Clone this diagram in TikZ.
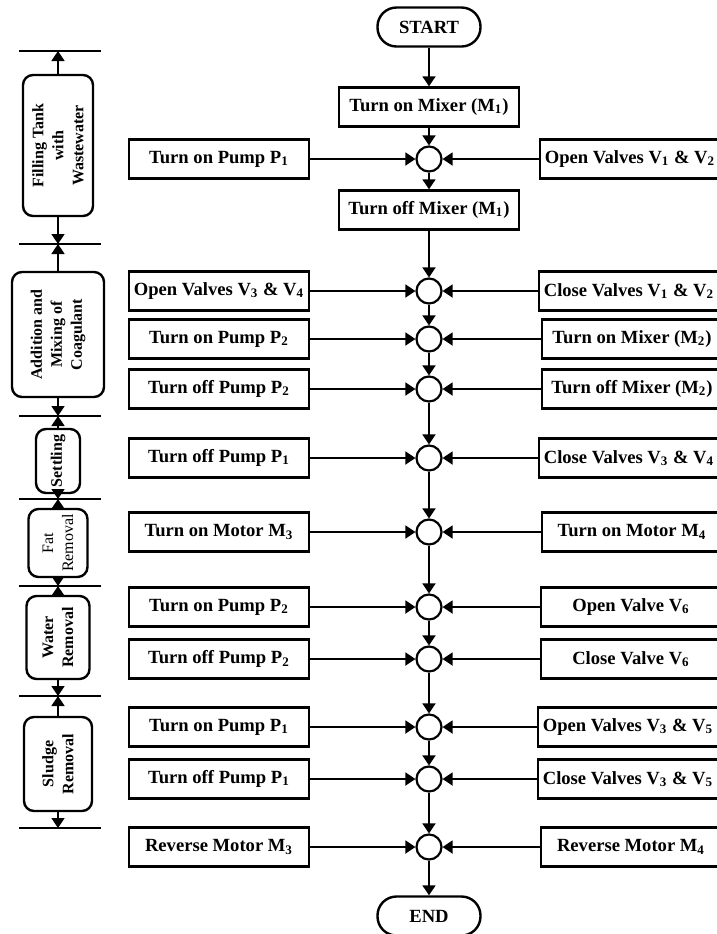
\documentclass[tikz,border=0pt]{standalone}
\usepackage{fontspec}
\setmainfont{Liberation Serif}
\usetikzlibrary{arrows.meta}

\tikzset{
  stepbox/.style={draw, line width=1.2pt, minimum width=90pt, minimum height=19.5pt, inner sep=1pt, font=\bfseries\fontsize{9.3}{11}\selectfont},
  termbox/.style={stepbox, rounded corners=9.5pt, minimum width=51.5pt},
  joint/.style={draw, circle, line width=1.1pt, minimum size=12.5pt, inner sep=0pt},
  stagebox/.style={draw, rounded corners=5pt, line width=1.2pt, rotate=90, align=center, inner sep=1pt, font=\bfseries\fontsize{8}{10}\selectfont},
  stagethin/.style={stagebox, font=\fontsize{8}{10}\selectfont},
  flow/.style={line width=0.9pt, -{Triangle[length=5pt,width=6.5pt]}},
  sepline/.style={line width=0.9pt},
}

\begin{document}
\begin{tikzpicture}[x=0.5pt,y=-0.5pt]
    \useasboundingbox (0,0) rectangle (717,934);

    % main column
    \node[termbox] (start) at (429,27) {START};
    \node[stepbox] (mixon) at (429,107) {Turn on Mixer (M\textsubscript{1})};
    \node[stepbox] (mixoff) at (429,210) {Turn off Mixer (M\textsubscript{1})};
    \node[termbox] (end) at (429,916) {END};

    \node[joint] (c1) at (429,159) {};
    \node[joint] (c2) at (429,291) {};
    \node[joint] (c3) at (429,339) {};
    \node[joint] (c4) at (429,389) {};
    \node[joint] (c5) at (429,458) {};
    \node[joint] (c6) at (429,532) {};
    \node[joint] (c7) at (429,607) {};
    \node[joint] (c8) at (429,659) {};
    \node[joint] (c9) at (429,727) {};
    \node[joint] (c10) at (429,779) {};
    \node[joint] (c11) at (429,847) {};

    % left column
    \node[stepbox] (l1) at (219,159) {Turn on Pump P\textsubscript{1}};
    \node[stepbox] (l2) at (219,291) {Open Valves V\textsubscript{3} \& V\textsubscript{4}};
    \node[stepbox] (l3) at (219,339) {Turn on Pump P\textsubscript{2}};
    \node[stepbox] (l4) at (219,389) {Turn off Pump P\textsubscript{2}};
    \node[stepbox] (l5) at (219,458) {Turn off Pump P\textsubscript{1}};
    \node[stepbox] (l6) at (219,532) {Turn on Motor M\textsubscript{3}};
    \node[stepbox] (l7) at (219,607) {Turn on Pump P\textsubscript{2}};
    \node[stepbox] (l8) at (219,659) {Turn off Pump P\textsubscript{2}};
    \node[stepbox] (l9) at (219,727) {Turn on Pump P\textsubscript{1}};
    \node[stepbox] (l10) at (219,779) {Turn off Pump P\textsubscript{1}};
    \node[stepbox] (l11) at (219,847) {Reverse Motor M\textsubscript{3}};

    % right column
    \node[stepbox] (r1) at (630,159) {Open Valves V\textsubscript{1} \& V\textsubscript{2}};
    \node[stepbox] (r2) at (629,291) {Close Valves V\textsubscript{1} \& V\textsubscript{2}};
    \node[stepbox] (r3) at (632,339) {Turn on Mixer (M\textsubscript{2})};
    \node[stepbox] (r4) at (632,389) {Turn off Mixer (M\textsubscript{2})};
    \node[stepbox] (r5) at (629,458) {Close Valves V\textsubscript{3} \& V\textsubscript{4}};
    \node[stepbox] (r6) at (632,532) {Turn on Motor M\textsubscript{4}};
    \node[stepbox] (r7) at (631,607) {Open Valve V\textsubscript{6}};
    \node[stepbox] (r8) at (631,659) {Close Valve V\textsubscript{6}};
    \node[stepbox] (r9) at (628,727) {Open Valves V\textsubscript{3} \& V\textsubscript{5}};
    \node[stepbox] (r10) at (628,779) {Close Valves V\textsubscript{3} \& V\textsubscript{5}};
    \node[stepbox] (r11) at (631,847) {Reverse Motor M\textsubscript{4}};

    \draw[flow] (start) -- (mixon);
    \draw[flow] (mixon) -- (c1);
    \draw[flow] (c1) -- (mixoff);
    \draw[flow] (mixoff) -- (c2);
    \draw[flow] (c2) -- (c3);
    \draw[flow] (c3) -- (c4);
    \draw[flow] (c4) -- (c5);
    \draw[flow] (c5) -- (c6);
    \draw[flow] (c6) -- (c7);
    \draw[flow] (c7) -- (c8);
    \draw[flow] (c8) -- (c9);
    \draw[flow] (c9) -- (c10);
    \draw[flow] (c10) -- (c11);
    \draw[flow] (c11) -- (end);

    \draw[flow] (l1) -- (c1);
    \draw[flow] (l2) -- (c2);
    \draw[flow] (l3) -- (c3);
    \draw[flow] (l4) -- (c4);
    \draw[flow] (l5) -- (c5);
    \draw[flow] (l6) -- (c6);
    \draw[flow] (l7) -- (c7);
    \draw[flow] (l8) -- (c8);
    \draw[flow] (l9) -- (c9);
    \draw[flow] (l10) -- (c10);
    \draw[flow] (l11) -- (c11);

    \draw[flow] (r1) -- (c1);
    \draw[flow] (r2) -- (c2);
    \draw[flow] (r3) -- (c3);
    \draw[flow] (r4) -- (c4);
    \draw[flow] (r5) -- (c5);
    \draw[flow] (r6) -- (c6);
    \draw[flow] (r7) -- (c7);
    \draw[flow] (r8) -- (c8);
    \draw[flow] (r9) -- (c9);
    \draw[flow] (r10) -- (c10);
    \draw[flow] (r11) -- (c11);

    % stages (rotated: east is up, west is down)
    \foreach \y [count=\i from 0] in {51,244,416,499,586,696,828} {
        \draw[sepline] (19,\y) -- (101,\y);
        \coordinate (t\i) at (58,\y);
    }
    \node[stagebox, minimum width=70.5pt, minimum height=35pt] (s1) at (58,145.5) {Filling Tank\\with\\Wastewater};
    \node[stagebox, minimum width=62.5pt, minimum height=46pt] (s2) at (58,334.5) {Addition and\\Mixing of\\Coagulant};
    \node[stagebox, minimum width=32pt, minimum height=22pt] (s3) at (58,461) {Settling};
    \node[stagethin, minimum width=34pt, minimum height=29.5pt] (s4) at (58,543) {Fat\\Removal};
    \node[stagebox, minimum width=41.5pt, minimum height=31.5pt] (s5) at (58,637.5) {Water\\Removal};
    \node[stagebox, minimum width=47pt, minimum height=34pt] (s6) at (58,764) {Sludge\\Removal};

    \draw[flow] (s1.east) -- (s1.east |- t0);
    \draw[flow] (s1.west) -- (s1.west |- t1);
    \draw[flow] (s2.east) -- (s2.east |- t1);
    \draw[flow] (s2.west) -- (s2.west |- t2);
    \draw[flow] (s3.east) -- (s3.east |- t2);
    \draw[flow] (s3.west) -- (s3.west |- t3);
    \draw[flow] (s4.east) -- (s4.east |- t3);
    \draw[flow] (s4.west) -- (s4.west |- t4);
    \draw[flow] (s5.east) -- (s5.east |- t4);
    \draw[flow] (s5.west) -- (s5.west |- t5);
    \draw[flow] (s6.east) -- (s6.east |- t5);
    \draw[flow] (s6.west) -- (s6.west |- t6);
\end{tikzpicture}
\end{document}
